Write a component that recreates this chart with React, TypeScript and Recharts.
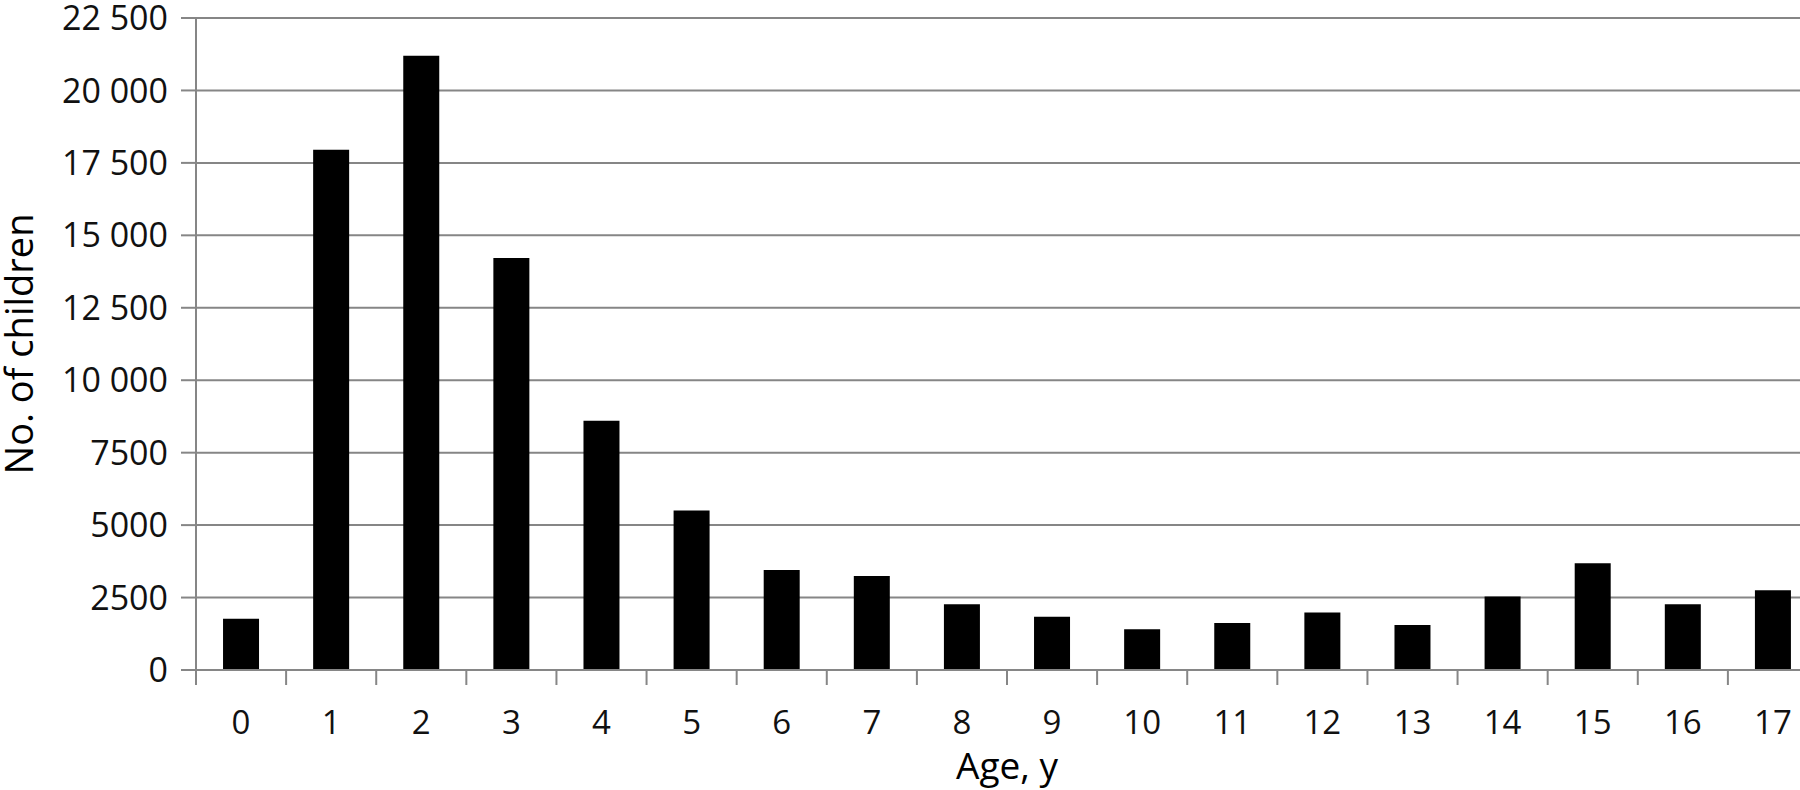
import { BarChart, Bar, XAxis, YAxis, CartesianGrid, Label } from 'recharts';

// ages along the x axis and number of children per age
const ages = ['0', '1', '2', '3', '4', '5', '6', '7', '8', '9', '10', '11', '12', '13', '14', '15', '16', '17'];
const children = [1770, 17950, 21200, 14220, 8600, 5500, 3455, 3240, 2270, 1840, 1410, 1620, 1980, 1550, 2540, 3680, 2265, 2750];
const yTicks = [0, 2500, 5000, 7500, 10000, 12500, 15000, 17500, 20000, 22500];

const data = ages.map((age, i) => ({ age, count: children[i] }));

const CHART_W = 1830;
const CHART_H = 790;
const Y_AXIS_W = 196;
const MARGIN = { top: 18, right: 12, left: 0, bottom: 0 };
const GRID = '#868686';
const TICK_LEN = 15;
const TICK_GAP = 26;

// excel puts the x tick marks between the categories, not under them
const BAND = (CHART_W - Y_AXIS_W - MARGIN.left - MARGIN.right) / ages.length;

const fmt = (v: number) =>
    v >= 10000 ? `${Math.floor(v / 1000)} ${String(v % 1000).padStart(3, '0')}` : String(v);

const AgeTick = ({ x, y, payload }: any) => (
    <g>
        <line
            x1={x - BAND / 2}
            x2={x - BAND / 2}
            y1={y - TICK_GAP - TICK_LEN}
            y2={y - TICK_GAP}
            stroke={GRID}
            strokeWidth={2}
        />
        <text x={x} y={y} dy="0.71em" textAnchor="middle" fontSize={33} fill="#111">
            {payload.value}
        </text>
    </g>
);

const App = () => {
    return (
        <div
            style={{
                position: 'fixed',
                left: 0,
                top: 0,
                width: 1800,
                height: 790,
                overflow: 'hidden',
                background: '#fff',
                fontFamily: '"Open Sans", sans-serif',
            }}
        >
            <BarChart width={CHART_W} height={CHART_H} data={data} margin={MARGIN} barCategoryGap="30%">
                <CartesianGrid vertical={false} stroke={GRID} strokeWidth={2} />

                <XAxis
                    dataKey="age"
                    height={120}
                    stroke={GRID}
                    strokeWidth={2}
                    tickLine={false}
                    tickSize={TICK_LEN}
                    tickMargin={TICK_GAP}
                    tick={<AgeTick />}
                    interval={0}
                >
                    <Label value="Age, y" position="insideBottom" offset={11} fontSize={37} fill="#000" />
                </XAxis>

                <YAxis
                    width={Y_AXIS_W}
                    domain={[0, 22500]}
                    ticks={yTicks}
                    tickFormatter={fmt}
                    stroke={GRID}
                    strokeWidth={2}
                    tickSize={TICK_LEN}
                    tickMargin={13}
                    tick={{ fontSize: 34, fill: '#111' }}
                    interval={0}
                >
                    <Label
                        value="No. of children"
                        angle={-90}
                        position="insideLeft"
                        offset={20}
                        fontSize={38}
                        fill="#000"
                        style={{ textAnchor: 'middle' }}
                    />
                </YAxis>

                <Bar dataKey="count" fill="#000" isAnimationActive={false} />
            </BarChart>
        </div>
    );
};

export default App;
